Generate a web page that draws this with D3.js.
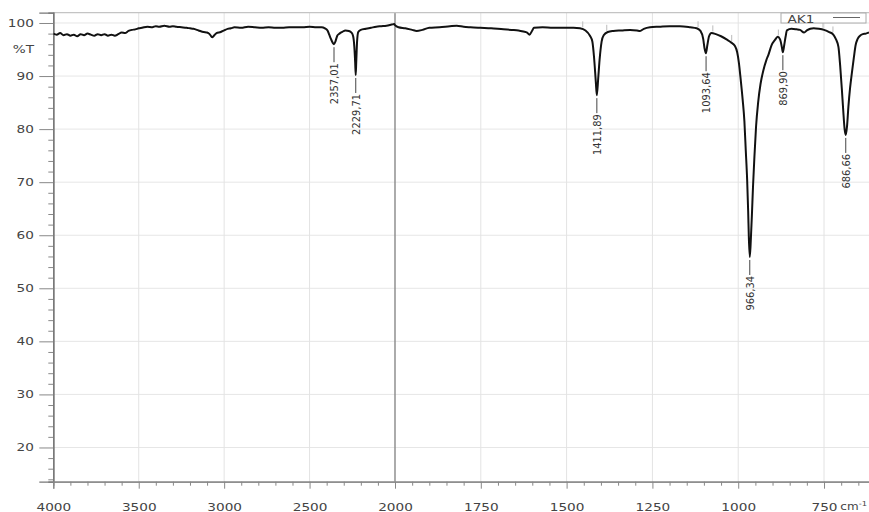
<!DOCTYPE html>
<html>
<head>
<meta charset="utf-8">
<script src="https://cdn.jsdelivr.net/npm/d3@7"></script>
<style>
  html, body { margin: 0; padding: 0; background: #fff; }
  svg { display: block; }
</style>
</head>
<body>
<svg id="chart" width="869" height="512"></svg>
<script>
// ---------- DATA ----------
const wavenumbers = [
  4000, 3980, 3960, 3940, 3920, 3900, 3880, 3860, 3840, 3820, 3800, 3780, 3760, 3740, 3720, 3700,
  3680, 3660, 3640, 3620, 3600, 3580, 3560, 3540, 3520, 3500, 3480, 3450, 3420, 3400, 3380, 3350,
  3320, 3300, 3280, 3250, 3220, 3200, 3180, 3150, 3120, 3100, 3085, 3070, 3060, 3045, 3020, 3000,
  2980, 2960, 2940, 2900, 2860, 2820, 2780, 2740, 2700, 2660, 2620, 2580, 2540, 2500, 2460, 2430,
  2410, 2395, 2385, 2375, 2365, 2357, 2348, 2338, 2325, 2310, 2290, 2270, 2255, 2245, 2238, 2233,
  2230, 2227, 2222, 2215, 2200, 2170, 2140, 2110, 2080, 2050, 2020, 2005, 2000,
  1990, 1970, 1950, 1937, 1920, 1900, 1870, 1840, 1820, 1800, 1780, 1752, 1720, 1684, 1660, 1640,
  1626, 1615, 1608, 1600, 1595, 1570, 1540, 1510, 1480, 1461, 1445, 1432, 1425, 1420, 1415, 1412,
  1408, 1404, 1398, 1392, 1380, 1364, 1340, 1315, 1295, 1286, 1275, 1257, 1230, 1200, 1170, 1140,
  1121, 1110, 1102, 1098, 1094, 1090, 1085, 1078, 1065, 1050, 1034, 1020, 1010, 1003, 998, 993,
  987, 982, 978, 974, 971, 969, 966.3, 963, 960, 957, 953, 948, 942, 935, 927, 918,
  912, 903, 893, 885, 878, 873, 870, 866, 862, 858, 845, 830, 820, 808, 800, 790,
  780, 765, 750, 735, 723, 715, 708, 703, 698, 694, 690, 686.7, 683, 679, 674, 669,
  663, 658, 652, 645, 637, 628, 619
];
const transmittance = [
  98.0, 97.8, 98.1, 97.7, 97.9, 97.6, 97.8, 97.5, 97.9, 97.7, 98.0, 97.8, 97.6, 97.9, 97.7, 97.9,
  97.6, 97.8, 97.6, 97.9, 98.2, 98.1, 98.5, 98.7, 98.8, 99.0, 99.1, 99.3, 99.2, 99.4, 99.3, 99.5,
  99.3, 99.4, 99.3, 99.2, 99.1, 99.0, 98.9, 98.6, 98.3, 98.2, 97.9, 97.3, 97.6, 98.1, 98.3, 98.6,
  98.9, 99.0, 99.2, 99.1, 99.3, 99.2, 99.1, 99.2, 99.1, 99.1, 99.2, 99.2, 99.2, 99.3, 99.2, 99.2,
  99.0, 98.6, 97.8, 97.0, 96.3, 96.0, 96.6, 97.6, 98.0, 98.3, 98.6, 98.5, 98.2, 97.5, 95.5, 92.5,
  90.2, 92.5, 96.5, 98.3, 98.7, 98.9, 99.1, 99.3, 99.4, 99.5, 99.7, 99.8, 99.6,
  99.2, 99.0, 98.7, 98.5, 98.7, 99.1, 99.2, 99.4, 99.5, 99.3, 99.2, 99.1, 99.0, 98.8, 98.7, 98.6,
  98.4, 98.2, 97.8, 98.6, 99.1, 99.2, 99.1, 99.1, 99.1, 99.0, 98.6, 97.6, 96.5, 93.5, 89.0, 86.4,
  89.5, 93.0, 96.5, 97.7, 98.3, 98.5, 98.6, 98.7, 98.6, 98.5, 98.9, 99.2, 99.3, 99.4, 99.4, 99.2,
  99.0, 98.5, 97.0, 95.2, 94.3, 95.8, 97.5, 98.1, 97.9, 97.5, 96.9, 96.3, 95.7, 94.5, 92.5, 89.5,
  85.5, 81.5, 76.0, 70.5, 64.5, 59.5, 55.9, 59.5, 64.0, 69.0, 74.5, 80.5, 85.0, 88.5, 91.0, 93.0,
  94.0, 95.8, 96.8, 97.4, 96.9, 95.5, 94.5, 95.8, 97.4, 98.6, 98.9, 98.8, 98.7, 98.2, 98.6, 98.9,
  99.0, 98.9, 98.7, 98.3, 97.8, 96.9, 95.5, 92.0, 87.5, 83.5, 80.0, 78.9, 80.5, 84.2, 87.8, 90.5,
  93.5, 95.8, 97.0, 97.6, 97.9, 98.0, 98.2
];

const peakWn = [2357.01, 2229.71, 1411.89, 1093.64, 966.34, 869.90, 686.66];
const peakT  = [96.0, 90.2, 86.4, 94.3, 55.9, 94.5, 78.9];

const markWn = [1453, 1383, 1117, 1074, 1019, 883, 753, 724];

const xMajorTicks = [4000, 3500, 3000, 2500, 2000, 1750, 1500, 1250, 1000, 750];
const yMajorTicks = [20, 30, 40, 50, 60, 70, 80, 90, 100];
const seriesName = "AK1";
const yTitle = "%T";
const xUnitBase = "cm";
const xUnitExp = "-1";

// ---------- LAYOUT ----------
(function () {
const svg = d3.select("#chart");
const pLeft = 53.3, pRight = 869, pTop = 12.7, pBottom = 481.7;
const x = d3.scaleLinear().domain([4000, 2000, 600]).range([pLeft, 395, 875.5]);
const y = d3.scaleLinear().domain([13.55, 101.94]).range([pBottom, pTop]);

const FONT = "'DejaVu Sans', Verdana, sans-serif";
const SX = 1.3;
const labelColor = "#444";

// grid
const grid = svg.append("g");
grid.selectAll("line.gy").data(yMajorTicks).join("line")
  .attr("x1", pLeft).attr("x2", pRight)
  .attr("y1", d => y(d)).attr("y2", d => y(d))
  .attr("stroke", "#e6e6e6").attr("stroke-width", 1);
grid.selectAll("line.gx").data(xMajorTicks.filter(d => d !== 4000 && d !== 2000)).join("line")
  .attr("x1", d => x(d)).attr("x2", d => x(d))
  .attr("y1", pTop).attr("y2", pBottom)
  .attr("stroke", "#e3e3e3").attr("stroke-width", 1);
// scale-break line at 2000
svg.append("line")
  .attr("x1", x(2000)).attr("x2", x(2000)).attr("y1", pTop).attr("y2", pBottom)
  .attr("stroke", "#888").attr("stroke-width", 1.4);
// top border
svg.append("line").attr("x1", pLeft).attr("x2", pRight).attr("y1", pTop).attr("y2", pTop)
  .attr("stroke", "#c4c4c4").attr("stroke-width", 1.3);

// y axis
const yMinor = d3.range(14, 101, 2).filter(d => d % 10 !== 0);
const yAxisMinor = svg.append("g").attr("transform", `translate(${pLeft},0)`)
  .call(d3.axisLeft(y).tickValues(yMinor).tickSize(5).tickFormat(""));
const yAxis = svg.append("g").attr("transform", `translate(${pLeft},0)`)
  .call(d3.axisLeft(y).tickValues(yMajorTicks).tickSize(14).tickPadding(5));
[yAxisMinor, yAxis].forEach(g => {
  g.select(".domain").attr("stroke", "#777").attr("stroke-width", 1.3);
  g.selectAll(".tick line").attr("stroke", "#888");
});
yAxis.selectAll(".tick text")
  .attr("font-family", FONT).attr("font-size", 10.5).attr("fill", labelColor)
  .attr("x", -19.5 / SX).attr("transform", `scale(${SX},1)`);

svg.append("text")
  .attr("transform", `translate(34,${y(95)}) scale(${SX},1)`)
  .attr("dy", "0.35em").attr("text-anchor", "end")
  .attr("font-family", FONT).attr("font-size", 10.5).attr("fill", labelColor)
  .text(yTitle);

// x axis
const xMinor = d3.range(3900, 2000, -100).filter(d => d % 500 !== 0)
  .concat(d3.range(1950, 600, -50).filter(d => d % 250 !== 0));
const xAxisMinor = svg.append("g").attr("transform", `translate(0,${pBottom})`)
  .call(d3.axisBottom(x).tickValues(xMinor).tickSize(4).tickFormat(""));
const xAxis = svg.append("g").attr("transform", `translate(0,${pBottom})`)
  .call(d3.axisBottom(x).tickValues(xMajorTicks).tickSize(7).tickFormat(d3.format("d")));
[xAxisMinor, xAxis].forEach(g => {
  g.select(".domain").attr("stroke", "#888").attr("stroke-width", 1.2);
  g.selectAll(".tick line").attr("stroke", "#888");
});
xAxis.selectAll(".tick text")
  .attr("font-family", FONT).attr("font-size", 10.5).attr("fill", labelColor)
  .attr("y", 29).attr("dy", 0).attr("transform", `scale(${SX},1)`);

const unit = svg.append("text")
  .attr("transform", `translate(867,510) scale(1.2,1)`)
  .attr("text-anchor", "end")
  .attr("font-family", FONT).attr("font-size", 10).attr("fill", labelColor);
unit.append("tspan").text(xUnitBase);
unit.append("tspan").attr("font-size", 7).attr("dy", -4).text(xUnitExp);

// spectrum
const pts = wavenumbers.map((w, i) => [w, transmittance[i]]);
svg.append("defs").append("clipPath").attr("id", "plotclip")
  .append("rect").attr("x", pLeft).attr("y", pTop - 2).attr("width", pRight - pLeft).attr("height", pBottom - pTop + 2);

// peak picking marks
function tAt(w) {
  for (let i = 0; i < wavenumbers.length - 1; i++) {
    const a = wavenumbers[i], b = wavenumbers[i + 1];
    if (w <= a && w >= b) {
      const f = (a - w) / (a - b);
      return transmittance[i] + f * (transmittance[i + 1] - transmittance[i]);
    }
  }
  return transmittance[transmittance.length - 1];
}
svg.append("g").selectAll("line").data(markWn).join("line")
  .attr("x1", d => x(d)).attr("x2", d => x(d))
  .attr("y1", d => y(tAt(d)) - 8).attr("y2", d => y(tAt(d)) - 2)
  .attr("stroke", "#bbb").attr("stroke-width", 1);

const line = d3.line().x(d => x(d[0])).y(d => y(d[1])).curve(d3.curveMonotoneX);
svg.append("path").datum(pts)
  .attr("clip-path", "url(#plotclip)")
  .attr("d", line).attr("fill", "none")
  .attr("stroke", "#111").attr("stroke-width", 2).attr("stroke-linejoin", "round");

// peak labels
const loc = d3.formatLocale({ decimal: ",", thousands: "", grouping: [3], currency: ["", ""] });
const fmt = loc.format(".2f");
const peaks = svg.append("g");
peakWn.forEach((w, i) => {
  const px = x(w), py = y(peakT[i]);
  peaks.append("line")
    .attr("x1", px).attr("x2", px).attr("y1", py + 3).attr("y2", py + 18)
    .attr("stroke", "#444").attr("stroke-width", 1);
  peaks.append("text")
    .attr("transform", `translate(${px},${py + 19}) rotate(-90)`)
    .attr("text-anchor", "end").attr("dy", "0.36em")
    .attr("font-family", "'Liberation Sans Narrow', 'DejaVu Sans Condensed', sans-serif")
    .attr("font-size", 11).attr("fill", "#333")
    .text(fmt(w));
});

// legend
const lg = svg.append("g");
lg.append("rect").attr("x", 781).attr("y", 13).attr("width", 85).attr("height", 10)
  .attr("fill", "#fff").attr("stroke", "#aaa").attr("stroke-width", 1);
lg.append("text").attr("transform", `translate(787.5,22.7) scale(${SX},1)`)
  .attr("font-family", FONT).attr("font-size", 10.5).attr("fill", labelColor)
  .text(seriesName);
lg.append("line").attr("x1", 833).attr("x2", 860).attr("y1", 17.5).attr("y2", 17.5)
  .attr("stroke", "#666").attr("stroke-width", 1);
})();
</script>
</body>
</html>
